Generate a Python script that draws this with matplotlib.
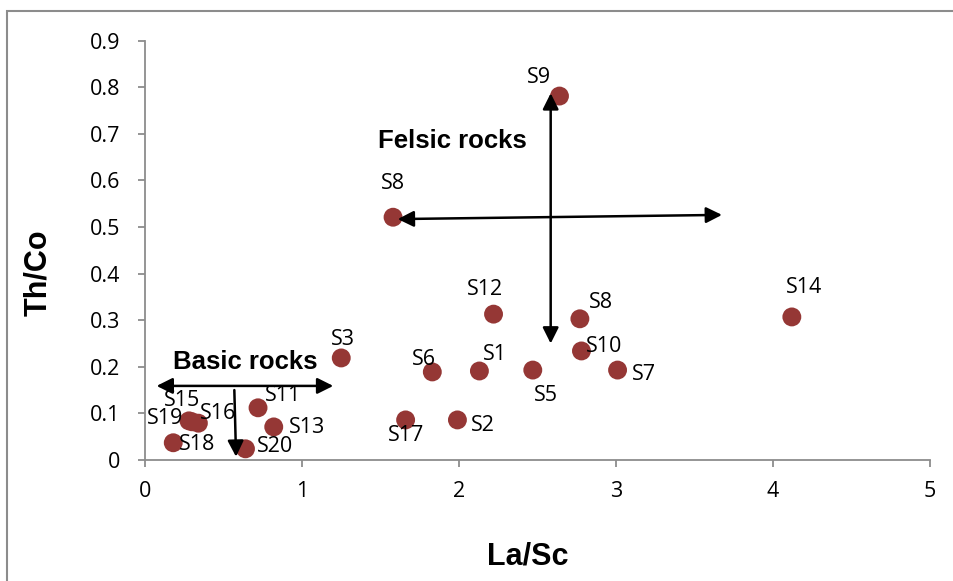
import matplotlib
matplotlib.use("Agg")
import matplotlib.pyplot as plt

# Sample ratios
samples = ["S9", "S8", "S12", "S8", "S14", "S3", "S10", "S6", "S1", "S5", "S7",
           "S17", "S2", "S11", "S13", "S19", "S15", "S16", "S18", "S20"]
la_sc = [2.64, 1.58, 2.22, 2.77, 4.12, 1.25, 2.78, 1.83, 2.13, 2.47, 3.01,
         1.66, 1.99, 0.72, 0.82, 0.28, 0.30, 0.34, 0.18, 0.64]
th_co = [0.781, 0.521, 0.313, 0.303, 0.307, 0.219, 0.234, 0.189, 0.191, 0.193, 0.193,
         0.086, 0.086, 0.112, 0.071, 0.084, 0.082, 0.079, 0.037, 0.024]

# Label offsets in points (dx, dy)
label_pos = {
    0: (-15, 13), 1: (0, 24), 2: (-6, 18), 3: (15, 11.5), 4: (9, 21.5),
    5: (1, 13.5), 6: (16, 3), 7: (-6, 9), 8: (11.5, 12), 9: (9.5, -18),
    10: (19, -3), 11: (0.5, -11.5), 12: (18, -4.3), 13: (18, 8.6), 14: (24, -0.7),
    15: (-17, 2), 16: (-7, 15), 17: (14, 7), 18: (17, -1.4), 19: (21, 1.4),
}

fig = plt.figure(figsize=(9.54, 5.81), dpi=100)
ax = fig.add_axes([145 / 954, 1 - 460 / 581, 785 / 954, 419.4 / 581])

# outer frame
fig.patches.append(plt.Rectangle((7 / 954, -0.1), 1.2, 1 - 11 / 581 + 0.1,
                                 transform=fig.transFigure, fill=False,
                                 edgecolor="#8c8c8c", linewidth=1.5, zorder=0))

ax.scatter(la_sc, th_co, s=185, color="#953735", zorder=3, edgecolors="none")

tick_font = "Open Sans"
for i, (x, y) in enumerate(zip(la_sc, th_co)):
    dx, dy = label_pos[i]
    ax.annotate(samples[i], (x, y), xytext=(dx, dy), textcoords="offset points",
                ha="center", va="center", fontsize=15.5, family=tick_font, zorder=4)

ax.set_xlim(0, 5)
ax.set_ylim(0, 0.9)
ax.set_xticks([0, 1, 2, 3, 4, 5])
ax.set_yticks([0, 0.1, 0.2, 0.3, 0.4, 0.5, 0.6, 0.7, 0.8, 0.9])
ax.set_xticklabels(["0", "1", "2", "3", "4", "5"])
ax.set_yticklabels(["0", "0.1", "0.2", "0.3", "0.4", "0.5", "0.6", "0.7", "0.8", "0.9"])
for lbl in ax.get_xticklabels() + ax.get_yticklabels():
    lbl.set_family(tick_font)
    lbl.set_fontsize(15.5)
ax.tick_params(axis="both", direction="out", length=5, width=1.3, color="#8c8c8c")
ax.tick_params(axis="x", pad=10)
ax.tick_params(axis="y", pad=13)
for side in ["top", "right"]:
    ax.spines[side].set_visible(False)
for side in ["left", "bottom"]:
    ax.spines[side].set_color("#8c8c8c")
    ax.spines[side].set_linewidth(1.3)

ax.set_xlabel("La/Sc", family="Liberation Sans", fontweight="bold", fontsize=22)
ax.set_ylabel("Th/Co", family="Liberation Sans", fontweight="bold", fontsize=22)
ax.xaxis.set_label_coords(0.488, -0.229)
ax.yaxis.set_label_coords(-0.136, 0.446)
ax.xaxis.label.set_va("center")
ax.yaxis.label.set_va("center")

arrow_kw = dict(arrowstyle="<|-|>", color="black", lw=1.8, mutation_scale=24, shrinkA=0, shrinkB=0)
down_kw = dict(arrowstyle="-|>", color="black", lw=1.8, mutation_scale=24, shrinkA=0, shrinkB=0)

# Felsic field arrows
ax.annotate("", xy=(3.675, 0.526), xytext=(1.61, 0.517), arrowprops=arrow_kw, zorder=5)
ax.annotate("", xy=(2.584, 0.787), xytext=(2.584, 0.250), arrowprops=arrow_kw, zorder=5)
# Basic field arrows
ax.annotate("", xy=(1.199, 0.159), xytext=(0.074, 0.159), arrowprops=arrow_kw, zorder=5)
ax.annotate("", xy=(0.58, 0.007), xytext=(0.569, 0.150), arrowprops=down_kw, zorder=5)

ax.text(1.955, 0.685, "Felsic rocks", family="Liberation Sans", fontweight="bold",
        fontsize=18.5, ha="center", va="center")
ax.text(0.637, 0.210, "Basic rocks", family="Liberation Sans", fontweight="bold",
        fontsize=18.5, ha="center", va="center")

fig.savefig("out.png", dpi=100)
